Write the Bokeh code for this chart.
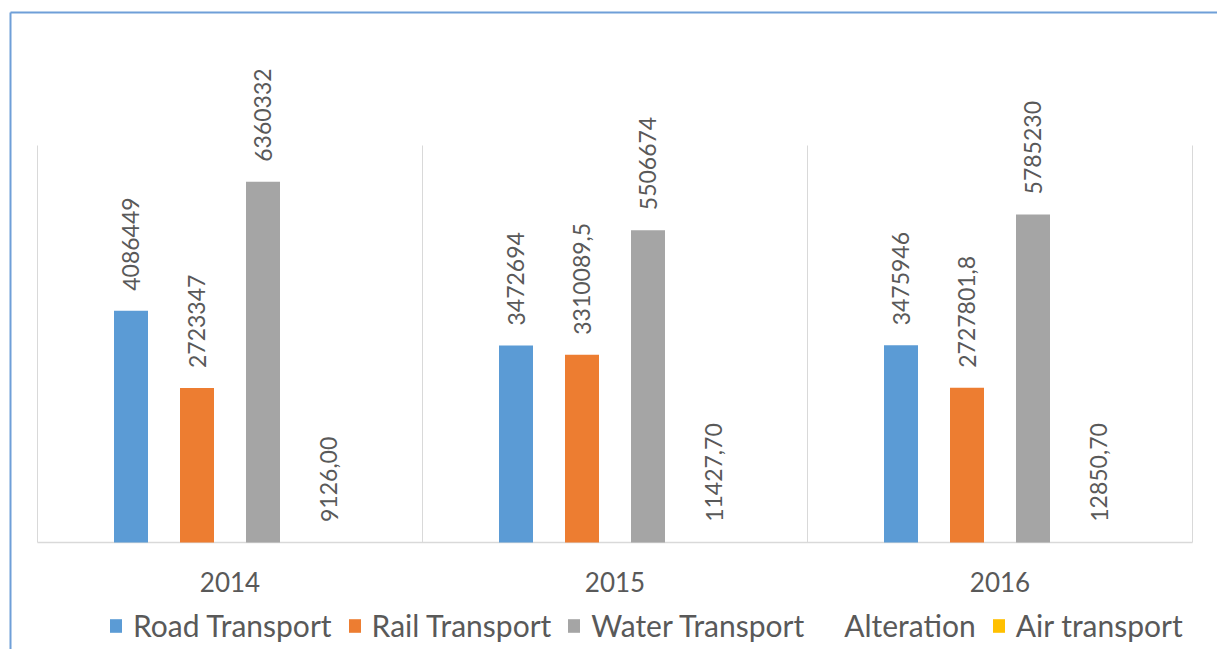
from bokeh.plotting import figure
from bokeh.models import ColumnDataSource, Range1d, Legend, LegendItem
from bokeh.core.properties import value
from bokeh.embed import file_html
from bokeh.resources import INLINE

years = ["2014", "2015", "2016"]
road = [4086449, 3472694, 3475946]
rail = [2723347, 3310089.5, 2727801.8]
water = [6360332, 5506674, 5785230]
alteration = [9126.00, 11427.70, 12850.70]
air = [0, 0, 0]

road_labels = ["4086449", "3472694", "3475946"]
rail_labels = ["2723347", "3310089,5", "2727801,8"]
water_labels = ["6360332", "5506674", "5785230"]
alteration_labels = ["9126,00", "11427,70", "12850,70"]
air_labels = ["", "", ""]

series = [
    ("Road Transport", road, road_labels, "#5B9BD5"),
    ("Rail Transport", rail, rail_labels, "#ED7D31"),
    ("Water Transport", water, water_labels, "#A5A5A5"),
    ("Alteration", alteration, alteration_labels, None),
    ("Air transport", air, air_labels, "#FFC000"),
]
y_max = 7000000

FONT = "Lato"
TXT = "#595959"
GRID = "#D9D9D9"

# layout in screen pixels
W, H = 1217, 649
FRAME_L, CAT_W = 37, 385
BASE_Y, TOP_Y = 542, 145
k = y_max / (BASE_Y - TOP_Y)

p = figure(width=W, height=H, output_backend="svg", toolbar_location=None,
           x_range=Range1d(-FRAME_L / CAT_W, (W - FRAME_L) / CAT_W),
           y_range=Range1d(-(H - BASE_Y) * k, BASE_Y * k),
           min_border=0)
p.outline_line_color = None
p.axis.visible = False
p.grid.visible = False

n = len(years)
# category separators and baseline
p.segment(x0=list(range(n + 1)), y0=[0] * (n + 1), x1=list(range(n + 1)),
          y1=[y_max] * (n + 1), line_color=GRID, line_width=1)
p.segment(x0=[0], y0=[0], x1=[n], y1=[0], line_color=GRID, line_width=1.3)

# category labels
p.text(x=[i + 0.5 for i in range(n)], y=[0] * n, text=years, text_align="center",
       text_baseline="middle", y_offset=39, text_font=value(FONT),
       text_font_size="26px", text_color=TXT)

n_slots = 6
step = 66 / CAT_W
bw = 34 / CAT_W
items = []
for j, (name, vals, labs, col) in enumerate(series):
    slot = j + 1
    xs = [i + 0.5 + (slot - (n_slots - 1) / 2) * step for i in range(n)]
    src = ColumnDataSource(dict(x=xs, top=vals, lab=labs))
    if col is None:
        r = p.vbar(x="x", top="top", width=bw, source=src, fill_alpha=0, line_alpha=0)
    else:
        r = p.vbar(x="x", top="top", width=bw, source=src, fill_color=col, line_color=None)
    p.text(x="x", y="top", text="lab", source=src, angle=1.5708, text_align="left",
           text_baseline="middle", y_offset=-20,
           text_font=value(FONT), text_font_size="23px", text_color=TXT)
    items.append(LegendItem(label=name, renderers=[r]))

legend = Legend(items=items, orientation="horizontal", location=(108, 6),
                label_text_font=FONT, label_text_font_size="30px", label_text_color=TXT,
                glyph_width=15, glyph_height=17, label_standoff=10, spacing=15,
                padding=0, margin=0, border_line_color=None, background_fill_alpha=0)
p.add_layout(legend, "center")

# chart-area border (left and top edges visible)
p.segment(x0=[-(FRAME_L - 10) / CAT_W, -(FRAME_L - 10) / CAT_W],
          y0=[(BASE_Y - 12) * k, (BASE_Y - 12) * k],
          x1=[-(FRAME_L - 10) / CAT_W, (W - FRAME_L) / CAT_W],
          y1=[-(H - BASE_Y) * k, (BASE_Y - 12) * k],
          line_color="#6F9FD8", line_width=2)

open("out.html", "w").write(file_html(p, INLINE))
